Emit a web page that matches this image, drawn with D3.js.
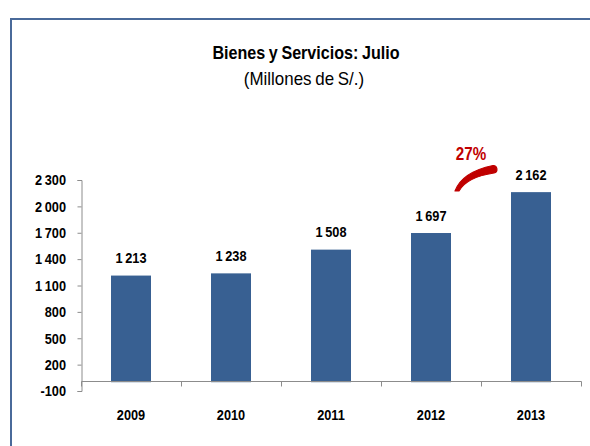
<!DOCTYPE html>
<html>
<head>
<meta charset="utf-8">
<script src="https://cdn.jsdelivr.net/npm/d3@7"></script>
<style>
  body { margin: 0; background: #fff; }
  text { font-family: "Liberation Sans", Arial, sans-serif; }
</style>
</head>
<body>
<svg id="chart" width="590" height="446"></svg>
<script>
var years = ['2009', '2010', '2011', '2012', '2013'];
var values = [1213, 1238, 1508, 1697, 2162];
var yTicks = [-100, 200, 500, 800, 1100, 1400, 1700, 2000, 2300];
var growthLabel = '27%';

var svg = d3.select('#chart');
var locale = d3.formatLocale({ decimal: ',', thousands: ' ', grouping: [3], currency: ['', ''], minus: '-' });
var fmt = locale.format(',d');

// text squeezed horizontally to mimic the narrow face of the original
function label(x, y, str, size, weight, k, anchor) {
  return svg.append('text')
    .attr('transform', 'translate(' + x + ',' + y + ') scale(' + k + ',1)')
    .attr('text-anchor', anchor || 'middle')
    .style('font-size', size + 'px')
    .style('font-weight', weight)
    .text(str);
}

// frame around the chart
svg.append('path')
  .attr('d', 'M11,446 L11,19 L590,19')
  .attr('fill', 'none')
  .attr('stroke', '#4A6A9A')
  .attr('stroke-width', 2);

label(306, 58.5, 'Bienes y Servicios: Julio', 18, 'bold', 0.895).style('word-spacing', '-1px');
label(304, 85, '(Millones de S/.)', 18, 'normal', 0.94).style('word-spacing', '-1px');

var x = d3.scaleBand().domain(years).range([81, 581]).paddingInner(0.6).paddingOuter(0.3);
var y = d3.scaleLinear().domain([-100, 2300]).range([391, 180]);

// y axis
var k = 0.85;
var yAxis = svg.append('g')
  .attr('transform', 'translate(81.5,0)')
  .call(d3.axisLeft(y).tickValues(yTicks).tickFormat(fmt).tickSize(4).tickSizeOuter(4));
yAxis.select('.domain').attr('stroke', '#8C8C8C');
yAxis.selectAll('.tick line').attr('stroke', '#8C8C8C');
yAxis.selectAll('text')
  .attr('x', -15.5 / k)
  .attr('transform', 'scale(' + k + ',1)')
  .style('font-size', '15px').style('font-weight', 'bold')
  .style('word-spacing', '-1px')
  .style('font-family', '"Liberation Sans", Arial, sans-serif')
  .attr('fill', '#000');

// bars
svg.selectAll('rect.bar')
  .data(values)
  .enter().append('rect')
  .attr('class', 'bar')
  .attr('x', (d, i) => x(years[i]))
  .attr('width', x.bandwidth())
  .attr('y', (d) => y(d))
  .attr('height', (d) => y(0) - y(d))
  .attr('fill', '#386092');

// x axis line at zero with ticks between categories
var x0 = Math.round(y(0)) - 0.5;
svg.append('line')
  .attr('x1', 81.5).attr('x2', 581.5)
  .attr('y1', x0).attr('y2', x0)
  .attr('stroke', '#8C8C8C');
var step = x.step();
var left = x(years[0]) - x.paddingOuter() * step;
svg.selectAll('line.xtick')
  .data(d3.range(years.length + 1))
  .enter().append('line')
  .attr('class', 'xtick')
  .attr('x1', (i) => Math.round(left + i * step) + 0.5)
  .attr('x2', (i) => Math.round(left + i * step) + 0.5)
  .attr('y1', x0).attr('y2', x0 + 5)
  .attr('stroke', '#8C8C8C');

years.forEach(function(yr) {
  label(x(yr) + x.bandwidth() / 2, 419.5, yr, 15, 'bold', k);
});

// value labels
values.forEach(function(v, i) {
  label(x(years[i]) + x.bandwidth() / 2, y(v) - 12.5, fmt(v), 15, 'bold', k).style('word-spacing', '-1px');
});

// growth annotation between 2012 and 2013
svg.append('path')
  .attr('d', 'M455,191 Q462,172 493,165.5 A3.8,3.8 0 0 1 494,173 Q467,177 459,191 Z')
  .attr('fill', '#C00000')
  .attr('stroke', '#C00000')
  .attr('stroke-width', 1.2)
  .attr('stroke-linejoin', 'round');

label(471, 159.5, growthLabel, 19, 'bold', 0.8).attr('fill', '#C00000');
</script>
</body>
</html>
